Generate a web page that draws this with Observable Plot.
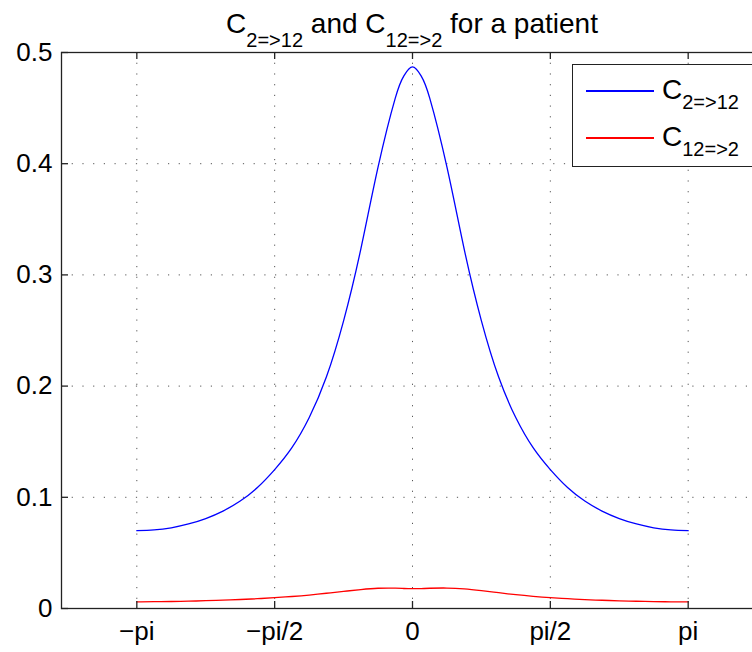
<!DOCTYPE html>
<html>
<head>
<meta charset="utf-8">
<script src="https://cdn.jsdelivr.net/npm/d3@7"></script>
<script src="https://cdn.jsdelivr.net/npm/@observablehq/plot@0.6"></script>
<style>
  html, body { margin: 0; padding: 0; background: #fff; overflow: hidden; }
  #wrap { position: relative; width: 752px; height: 652px; overflow: hidden;
          font-family: "Liberation Sans", Arial, Helvetica, sans-serif; color: #000; }
  #title { position: relative; height: 40px; width: 824px; text-align: center; }
  #title .t { position: absolute; left: 0; top: 10.3px; width: 824px; font-size: 28px; line-height: 28px; white-space: nowrap; }
  .sub { font-size: 20px; vertical-align: -14px; }
  #chart svg { max-width: none !important; display: block; }
  .lbox { position: absolute; left: 572px; top: 64px; width: 182px; height: 103px;
          border: 1.3px solid #222; box-sizing: border-box; background: #fff; }
  .lline { position: absolute; left: 586px; width: 68px; height: 1.3px; }
  .ltext { position: absolute; left: 662px; font-size: 28px; line-height: 28px; white-space: nowrap; }
  .ltext .sub { font-size: 20px; vertical-align: -10px; }
</style>
</head>
<body>
<div id="wrap">
  <div id="title"><div class="t">C<span class="sub">2=&gt;12</span> and C<span class="sub">12=&gt;2</span> for a patient</div></div>
  <div id="chart"></div>
  <div class="lbox"></div>
  <div class="lline" style="top:90.4px;background:#0000ff"></div>
  <div class="lline" style="top:137.4px;background:#ff0000"></div>
  <div class="ltext" style="top:76.3px">C<span class="sub">2=&gt;12</span></div>
  <div class="ltext" style="top:123.3px">C<span class="sub">12=&gt;2</span></div>
</div>
<script>
// ---- data ----
const xTickValues = [-Math.PI, -Math.PI / 2, 0, Math.PI / 2, Math.PI];
const xTickLabels = ["\u2212pi", "\u2212pi/2", "0", "pi/2", "pi"];
const yTickValues = [0, 0.1, 0.2, 0.3, 0.4, 0.5];
const yTickLabels = ["0", "0.1", "0.2", "0.3", "0.4", "0.5"];

const theta = [
  -3.1416, -2.9452, -2.7489, -2.5525, -2.3562, -2.1598, -1.9635, -1.7671,
  -1.5708, -1.3744, -1.1781, -0.9817, -0.7854, -0.5890, -0.3927, -0.1963,
  -0.0982, 0, 0.0982,
  0.1963, 0.3927, 0.5890, 0.7854, 0.9817, 1.1781, 1.3744, 1.5708,
  1.7671, 1.9635, 2.1598, 2.3562, 2.5525, 2.7489, 2.9452, 3.1416
];
const c2to12 = [
  0.0700, 0.0707, 0.0726, 0.0760, 0.0809, 0.0876, 0.0966, 0.1088,
  0.1249, 0.1446, 0.1715, 0.2081, 0.2587, 0.3232, 0.3969, 0.4590,
  0.4790, 0.4870, 0.4790,
  0.4590, 0.3969, 0.3232, 0.2587, 0.2081, 0.1715, 0.1446, 0.1249,
  0.1088, 0.0966, 0.0876, 0.0809, 0.0760, 0.0726, 0.0707, 0.0700
];
const c12to2 = [
  0.0059, 0.0061, 0.0063, 0.0066, 0.0070, 0.0075, 0.0081, 0.0088,
  0.0097, 0.0108, 0.0121, 0.0137, 0.0154, 0.0170, 0.0182, 0.0183,
  0.0180, 0.0178, 0.0179,
  0.0182, 0.0184, 0.0176, 0.0160, 0.0142, 0.0124, 0.0109, 0.0097,
  0.0088, 0.0080, 0.0074, 0.0069, 0.0065, 0.0062, 0.0060, 0.0059
];

const blueData = theta.map((t, i) => ({theta: t, v: c2to12[i]}));
const redData = theta.map((t, i) => ({theta: t, v: c12to2[i]}));

const W = 800, H = 612;
const mL = 61, mR = 37, mT = 12, mB = 44;
const frameW = W - mL - mR, frameH = H - mT - mB;
const tickLen = 7;
const axisColor = "#222";
const gridStyle = {stroke: "#555", strokeOpacity: 1, strokeWidth: 1, strokeDasharray: "1.2,9.5"};

const chart = Plot.plot({
  width: W, height: H,
  marginLeft: mL, marginRight: mR, marginTop: mT, marginBottom: mB,
  style: {fontFamily: "'Liberation Sans', Arial, Helvetica, sans-serif", fontSize: "26px", color: "#000", background: "#fff", overflow: "visible", maxWidth: "none"},
  x: {domain: [-4, 4], label: null},
  y: {domain: [0, 0.5], label: null},
  marks: [
    Plot.gridX(xTickValues, gridStyle),
    Plot.gridY(yTickValues.slice(1, -1), gridStyle),
    Plot.line(redData, {x: "theta", y: "v", stroke: "#ff0000", strokeWidth: 1.3, curve: "natural"}),
    Plot.line(blueData, {x: "theta", y: "v", stroke: "#0000ff", strokeWidth: 1.3, curve: "natural"}),
    Plot.tickX(xTickValues, {x: d => d, insetTop: frameH - tickLen, stroke: axisColor, strokeWidth: 1.3}),
    Plot.tickX(xTickValues, {x: d => d, insetBottom: frameH - tickLen, stroke: axisColor, strokeWidth: 1.3}),
    Plot.tickY(yTickValues, {y: d => d, insetRight: frameW - tickLen, stroke: axisColor, strokeWidth: 1.3}),
    Plot.tickY(yTickValues, {y: d => d, insetLeft: frameW - tickLen, stroke: axisColor, strokeWidth: 1.3}),
    Plot.axisX(xTickValues, {tickSize: 0, tickPadding: 13, fontSize: 26, label: null,
      tickFormat: d => xTickLabels[xTickValues.indexOf(d)]}),
    Plot.axisY(yTickValues, {tickSize: 0, tickPadding: 9, fontSize: 26, label: null,
      tickFormat: d => yTickLabels[yTickValues.indexOf(d)]}),
    Plot.frame({stroke: axisColor, strokeWidth: 1.3})
  ]
});
chart.style.maxWidth = "none";
document.getElementById("chart").appendChild(chart);
</script>
</body>
</html>
